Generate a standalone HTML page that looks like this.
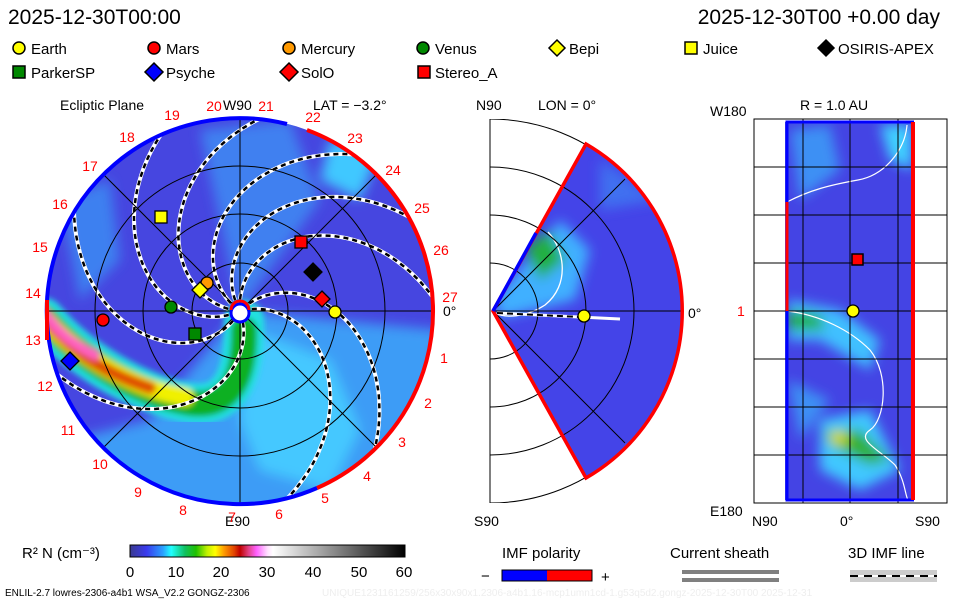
<!DOCTYPE html>
<html><head><meta charset="utf-8"><style>
html,body{margin:0;padding:0;background:#fff;width:960px;height:600px;overflow:hidden}
svg{display:block}
text{font-family:"Liberation Sans",sans-serif}
</style></head><body>
<svg id="s" width="960" height="600" viewBox="0 0 960 600" xmlns="http://www.w3.org/2000/svg">
<defs>
<filter id="bl" x="-20%" y="-20%" width="140%" height="140%"><feGaussianBlur stdDeviation="6"/></filter>
<filter id="bl2" x="-20%" y="-20%" width="140%" height="140%"><feGaussianBlur stdDeviation="3"/></filter>
<clipPath id="cc"><circle cx="240" cy="311" r="193"/></clipPath>
<clipPath id="wc"><path d="M493,311 L586,144 A193,193 0 0 1 586,478 Z"/></clipPath>
<clipPath id="rc"><rect x="785" y="122" width="130" height="378"/></clipPath>
<clipPath id="mb"><rect x="490" y="119" width="260" height="384"/></clipPath>
<linearGradient id="cb" x1="0" x2="1">
<stop offset="0" stop-color="#3a3a90"/><stop offset="0.06" stop-color="#3a3aee"/><stop offset="0.12" stop-color="#2aa0ff"/><stop offset="0.15" stop-color="#20ffff"/><stop offset="0.2" stop-color="#10c060"/><stop offset="0.24" stop-color="#20c000"/><stop offset="0.28" stop-color="#c0f000"/><stop offset="0.31" stop-color="#ffff00"/><stop offset="0.34" stop-color="#ffa000"/><stop offset="0.38" stop-color="#e04000"/><stop offset="0.4" stop-color="#c00000"/><stop offset="0.43" stop-color="#e04080"/><stop offset="0.46" stop-color="#ff60ff"/><stop offset="0.5" stop-color="#ffe0ff"/><stop offset="0.52" stop-color="#ffffff"/><stop offset="0.7" stop-color="#a0a0a0"/><stop offset="1" stop-color="#000"/>
</linearGradient>
</defs>
<rect width="960" height="600" fill="#fff"/>
<text x="8" y="24" font-size="21">2025-12-30T00:00</text>
<text x="940" y="24" font-size="21" text-anchor="end">2025-12-30T00 +0.00 day</text>
<g font-size="15" stroke="#000" stroke-width="1.5">
<circle cx="19" cy="48" r="6" fill="#ff0"/><circle cx="154" cy="48" r="6" fill="#f00"/><circle cx="289" cy="48" r="6" fill="#f90"/><circle cx="423" cy="48" r="6" fill="#080"/>
<path d="M557,40 l8,8 -8,8 -8,-8z" fill="#ff0"/><rect x="685" y="42" width="12" height="12" fill="#ff0"/><path d="M826,40 l8,8 -8,8 -8,-8z" fill="#000"/>
<rect x="13" y="66" width="12" height="12" fill="#080"/><path d="M154,63 l9,9 -9,9 -9,-9z" fill="#00f"/><path d="M289,63 l9,9 -9,9 -9,-9z" fill="#f00"/><rect x="418" y="66" width="12" height="12" fill="#f00"/>
</g>
<g font-size="15">
<text x="31" y="54">Earth</text><text x="166" y="54">Mars</text><text x="301" y="54">Mercury</text><text x="435" y="54">Venus</text><text x="569" y="54">Bepi</text><text x="703" y="54">Juice</text><text x="838" y="54">OSIRIS-APEX</text>
<text x="31" y="78">ParkerSP</text><text x="166" y="78">Psyche</text><text x="301" y="78">SolO</text><text x="435" y="78">Stereo_A</text>
</g>
<g clip-path="url(#cc)">
<rect x="40" y="110" width="400" height="410" fill="#4646e0"/>
<g filter="url(#bl)">
<path d="M240,311 L440,330 L420,470 L300,520 L110,520 L70,440 L150,420 Z" fill="#3c9cf6"/>
<path d="M250,330 L330,360 L360,430 L330,490 L260,470 L240,420Z" fill="#44c8ff"/>
<path d="M240,311 L200,130 L290,120 L320,200 Z" fill="#4080f0"/>
<path d="M330,140 L380,150 L360,200 L320,180Z" fill="#40c8ff"/>
<path d="M60,200 L110,180 L120,260 L80,300Z" fill="#3c80f0"/>
</g>
<g fill="none" stroke-linecap="round" filter="url(#bl2)">
<path d="M44,318 C80,360 140,395 190,403 C225,408 245,385 244,320" stroke="#20e0e0" stroke-width="40"/>
<path d="M44,318 C80,360 140,395 190,403 C225,408 245,385 244,330" stroke="#10b020" stroke-width="26"/>
<path d="M44,318 C80,360 140,390 185,397" stroke="#f0f000" stroke-width="18"/>
<path d="M44,318 C75,355 110,375 150,388" stroke="#e05000" stroke-width="12"/>
<path d="M44,312 C60,335 75,345 95,355" stroke="#ff60c0" stroke-width="10"/>
</g>
<g id="spir"></g>
</g>
<g fill="none" stroke="#000" stroke-width="1">
<circle cx="240" cy="311" r="48"/><circle cx="240" cy="311" r="97"/><circle cx="240" cy="311" r="145"/>
<line x1="47" y1="311" x2="433" y2="311"/><line x1="240" y1="118" x2="240" y2="504"/>
<line x1="104" y1="175" x2="376" y2="447"/><line x1="104" y1="447" x2="376" y2="175"/>
</g>
<path d="M307,130 A193,193 0 0 1 317,488" fill="none" stroke="#f00" stroke-width="4"/>
<path d="M317,488 A193,193 0 1 1 287,124" fill="none" stroke="#00f" stroke-width="4"/>
<path d="M47,300 L47,340" stroke="#f00" stroke-width="4"/>
<circle cx="240" cy="313" r="9" fill="#fff" stroke="#00f" stroke-width="3"/>
<path d="M231,310 A9,9 0 0 1 249,310" fill="none" stroke="#f00" stroke-width="3"/>
<g stroke="#000" stroke-width="1.3">
<circle cx="335" cy="312" r="6" fill="#ff0"/><circle cx="103" cy="320" r="6" fill="#f00"/><circle cx="207" cy="283" r="6" fill="#f90"/><circle cx="171" cy="307" r="6" fill="#080"/>
<path d="M200,282 l8,8 -8,8 -8,-8z" fill="#ff0"/><rect x="155" y="211" width="12" height="12" fill="#ff0"/><path d="M313,263 l9,9 -9,9 -9,-9z" fill="#000"/>
<rect x="189" y="328" width="12" height="12" fill="#080"/><path d="M70,352 l9,9 -9,9 -9,-9z" fill="#00f"/><path d="M322,291 l8,8 -8,8 -8,-8z" fill="#f00"/><rect x="295" y="236" width="12" height="12" fill="#f00"/>
</g>
<g font-size="14">
<text x="60" y="110">Ecliptic Plane</text><text x="223" y="110">W90</text><text x="313" y="110">LAT = −3.2°</text>
<text x="225" y="526">E90</text><text x="443" y="316">0°</text>
</g>
<g font-size="14" fill="#f00" text-anchor="middle" id="nums"></g>
<g clip-path="url(#mb)" fill="none" stroke="#000">
<circle cx="490" cy="311" r="48"/><circle cx="490" cy="311" r="96"/><circle cx="490" cy="311" r="144"/><circle cx="490" cy="311" r="192"/>
</g>
<line x1="490" y1="119" x2="490" y2="503" stroke="#000"/>
<g clip-path="url(#wc)">
<rect x="480" y="130" width="220" height="360" fill="#4444e8"/>
<g filter="url(#bl)">
<path d="M495,300 L560,220 L590,250 L575,300 L500,318Z" fill="#40b0ff"/>
<path d="M525,250 L548,230 L565,260 L540,280Z" fill="#20b040"/>
<path d="M600,160 L660,200 L600,210Z" fill="#4070f0"/>
</g>
<path d="M548,232 C565,250 570,285 545,305 C525,318 505,318 495,313" fill="none" stroke="#fff" stroke-width="1.3"/>
</g>
<g fill="none" stroke="#000"><circle cx="490" cy="311" r="48" clip-path="url(#wc)"/><circle cx="490" cy="311" r="96" clip-path="url(#wc)"/><circle cx="490" cy="311" r="144" clip-path="url(#wc)"/>
<line x1="493" y1="311" x2="683" y2="311"/><line x1="493" y1="311" x2="625" y2="179"/><line x1="493" y1="311" x2="625" y2="443"/></g>
<path d="M493,311 L586,144 A193,193 0 0 1 586,478 Z" fill="none" stroke="#f00" stroke-width="3.5"/>
<path d="M493,311 L536,233" stroke="#00f" stroke-width="3.5"/>
<path d="M497,313 L620,319" stroke="#fff" stroke-width="3"/><path d="M497,313 L580,317" stroke="#000" stroke-width="2" stroke-dasharray="6,4"/>
<circle cx="584" cy="316" r="6" fill="#ff0" stroke="#000" stroke-width="1.3"/>
<g font-size="14"><text x="476" y="110">N90</text><text x="538" y="110">LON = 0°</text><text x="474" y="526">S90</text><text x="688" y="318">0°</text></g>
<rect x="754" y="119" width="193" height="384" fill="none" stroke="#000"/>
<g clip-path="url(#rc)">
<rect x="780" y="115" width="140" height="390" fill="#4444e4"/>
<g filter="url(#bl)">
<path d="M790,130 L830,125 L840,170 L800,200Z" fill="#3c90f4"/>
<path d="M880,125 L912,125 L912,170 L890,160Z" fill="#40d0ff"/>
<path d="M788,300 L840,310 L880,340 L870,370 L820,340 L788,340Z" fill="#40c0ff"/>
<path d="M788,310 L820,315 L825,330 L788,330Z" fill="#20b040"/>
<path d="M820,420 L870,410 L900,470 L860,490 L820,470Z" fill="#40c8ff"/>
<path d="M825,430 L860,430 L890,460 L870,465 L830,445Z" fill="#30b030"/>
<path d="M830,432 L845,432 L848,444 L832,444Z" fill="#e0e000"/>
<path d="M788,380 L830,400 L800,440Z" fill="#3c90f4"/>
</g>
<path d="M787,202 C810,190 830,185 858,180 C885,175 905,150 907,125" fill="none" stroke="#fff" stroke-width="1.2"/>
<path d="M787,311 C820,315 850,330 870,350 C890,375 885,420 870,430 C855,440 880,450 895,465 C905,480 905,495 908,500" fill="none" stroke="#fff" stroke-width="1.2"/>
</g>
<g stroke="#000" fill="none">
<line x1="803" y1="119" x2="803" y2="503"/><line x1="850" y1="119" x2="850" y2="503"/><line x1="898" y1="119" x2="898" y2="503"/>
<line x1="754" y1="167" x2="947" y2="167"/><line x1="754" y1="215" x2="947" y2="215"/><line x1="754" y1="263" x2="947" y2="263"/><line x1="754" y1="311" x2="947" y2="311"/><line x1="754" y1="359" x2="947" y2="359"/><line x1="754" y1="407" x2="947" y2="407"/><line x1="754" y1="455" x2="947" y2="455"/>
</g>
<path d="M914,122 L787,122 L787,500 L914,500" fill="none" stroke="#00f" stroke-width="3"/>
<path d="M787,202 L787,311" stroke="#f00" stroke-width="3"/>
<path d="M913,122 L913,500" stroke="#f00" stroke-width="4"/>
<rect x="852" y="254" width="11" height="11" fill="#f00" stroke="#000" stroke-width="1.5"/>
<circle cx="853" cy="311" r="6" fill="#ff0" stroke="#000" stroke-width="1.3"/>
<g font-size="14"><text x="710" y="116">W180</text><text x="800" y="110">R = 1.0 AU</text><text x="710" y="516">E180</text><text x="752" y="526">N90</text><text x="840" y="526">0°</text><text x="915" y="526">S90</text><text x="737" y="316" fill="#f00">1</text></g>
<text x="22" y="558" font-size="15">R² N (cm⁻³)</text>
<rect x="130" y="545" width="275" height="12" fill="url(#cb)" stroke="#000"/>
<g font-size="15" text-anchor="middle"><text x="130" y="577">0</text><text x="176" y="577">10</text><text x="221" y="577">20</text><text x="267" y="577">30</text><text x="313" y="577">40</text><text x="359" y="577">50</text><text x="404" y="577">60</text></g>
<text x="5" y="596" font-size="10">ENLIL-2.7 lowres-2306-a4b1 WSA_V2.2 GONGZ-2306</text>
<text x="322" y="596" font-size="10" fill="#eee">UNIQUE1231161259/256x30x90x1.2306-a4b1.16-mcp1umn1cd-1.g53q5d2.gongz-2025-12-30T00   2025-12-31</text>
<text x="502" y="558" font-size="15">IMF polarity</text>
<text x="481" y="581" font-size="15">−</text><text x="601" y="582" font-size="15">+</text>
<rect x="502" y="570" width="45" height="11" fill="#00f"/><rect x="547" y="570" width="45" height="11" fill="#f00"/><rect x="502" y="570" width="90" height="11" fill="none" stroke="#000"/>
<text x="670" y="558" font-size="15">Current sheath</text>
<rect x="682" y="570" width="97" height="4" fill="#808080"/><rect x="682" y="578" width="97" height="4" fill="#808080"/>
<text x="848" y="558" font-size="15">3D IMF line</text>
<rect x="850" y="570" width="87" height="12" fill="#ccc"/><line x1="850" y1="576" x2="937" y2="576" stroke="#fff" stroke-width="2"/><line x1="850" y1="576" x2="937" y2="576" stroke="#000" stroke-width="2" stroke-dasharray="8,6"/>
</svg>
<script>
(function(){
var ns="http://www.w3.org/2000/svg",g=document.getElementById("spir");
var th0=[45,95,120,145,175,205,240,290,15];
th0.forEach(function(t0,i){
 var d="";
 for(var r=12;r<=200;r+=3){var a=(t0-0.47*r)*Math.PI/180;var x=240+r*Math.cos(a),y=311-r*Math.sin(a);d+=(r==12?"M":"L")+x.toFixed(1)+","+y.toFixed(1);}
 var p=document.createElementNS(ns,"path");p.setAttribute("d",d);p.setAttribute("fill","none");p.setAttribute("stroke","#fff");p.setAttribute("stroke-width","4");g.appendChild(p);
 var q=document.createElementNS(ns,"path");q.setAttribute("d",d);q.setAttribute("fill","none");q.setAttribute("stroke","#000");q.setAttribute("stroke-width","2.5");q.setAttribute("stroke-dasharray","5,4");g.appendChild(q);
});
var n=document.getElementById("nums");
var pts=[[19,172,120],[20,214,111],[21,266,111],[22,313,122],[23,355,143],[24,393,175],[25,422,213],[26,441,255],[27,450,302],[1,444,363],[2,428,408],[3,402,447],[4,367,481],[5,325,503],[6,279,519],[7,232,522],[8,183,515],[9,138,497],[10,100,469],[11,68,435],[12,45,391],[13,33,345],[14,33,298],[15,40,252],[16,60,209],[17,90,171],[18,127,142]];
pts.forEach(function(p){var t=document.createElementNS(ns,"text");t.setAttribute("x",p[1]);t.setAttribute("y",p[2]);t.textContent=p[0];n.appendChild(t);});
})();
</script>
</body></html>
